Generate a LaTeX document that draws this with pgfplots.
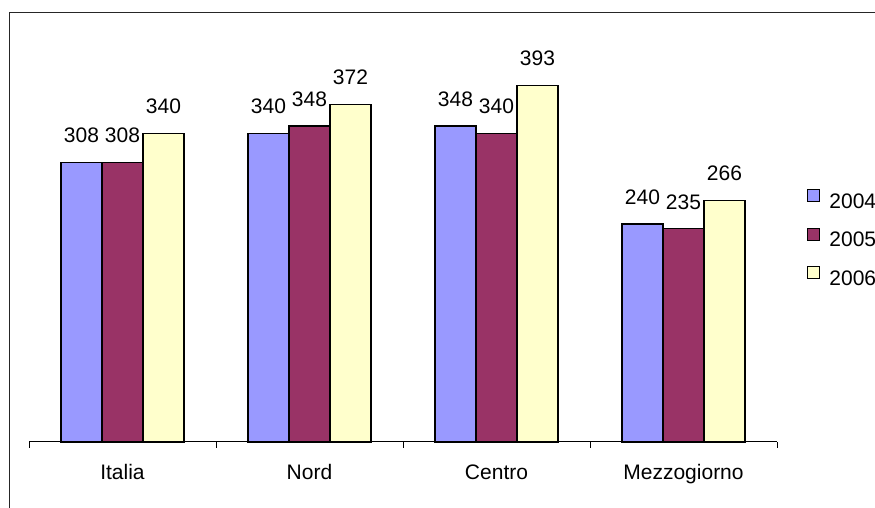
\documentclass[border=0pt]{standalone}
\usepackage{fontspec}
\setmainfont{Liberation Sans}
\usepackage{pgfplots}
\pgfplotsset{compat=1.18}

\definecolor{c2004}{HTML}{9999FF}
\definecolor{c2005}{HTML}{993366}
\definecolor{c2006}{HTML}{FFFFCC}

\begin{document}
\begin{tikzpicture}[font=\fontsize{21pt}{25pt}\selectfont]
  % page = 875 x 508 (1px = 1pt)
  \path[use as bounding box] (0pt,0pt) rectangle (875pt,508pt);
  \fill[white] (0pt,0pt) rectangle (875pt,508pt);
  % chart area frame (cut off at right and bottom)
  \draw[black!85, line width=1pt] (9pt,-20pt) -- (9pt,495pt) -- (900pt,495pt);

  \begin{axis}[
    at={(29pt,66pt)}, anchor=south west,
    scale only axis,
    width=748pt, height=408.6pt,
    ybar=0pt, bar width=41pt,
    xmin=0, xmax=4, ymin=0, ymax=450,
    axis x line*=bottom, axis y line=none,
    x axis line style={-, black, line width=1pt},
    xtick={0.5,1.5,2.5,3.5},
    xticklabels={Italia,Nord,Centro,Mezzogiorno},
    major x tick style={draw=none},
    minor xtick={0,1,2,3,4},
    minor x tick style={black, line width=1pt},
    minor tick length=6pt,
    tick align=outside,
    xticklabel style={anchor=base, yshift=-33pt, inner sep=0pt},
    nodes near coords,
    every node near coord/.append style={anchor=base, yshift=19.5pt, inner sep=0pt,
      /pgf/number format/assume math mode=true},
    clip=false,
    legend style={at={(1.0401,0.62)}, anchor=north west, draw=none, fill=none,
      inner sep=0pt, row sep=18pt, column sep=9pt, nodes={inner sep=0pt}},
    legend cell align=left,
    legend image code/.code={\draw[#1, line width=1.2pt] (0pt,0pt) rectangle (12pt,12pt);},
  ]
    \addplot[draw=black, line width=1.2pt, fill=c2004] coordinates {(0.5,308) (1.5,340) (2.5,348) (3.5,240)};
    \addplot[draw=black, line width=1.2pt, fill=c2005] coordinates {(0.5,308) (1.5,348) (2.5,340) (3.5,235)};
    \addplot[draw=black, line width=1.2pt, fill=c2006] coordinates {(0.5,340) (1.5,372) (2.5,393) (3.5,266)};
    \legend{2004,2005,2006}
  \end{axis}
\end{tikzpicture}
\end{document}
